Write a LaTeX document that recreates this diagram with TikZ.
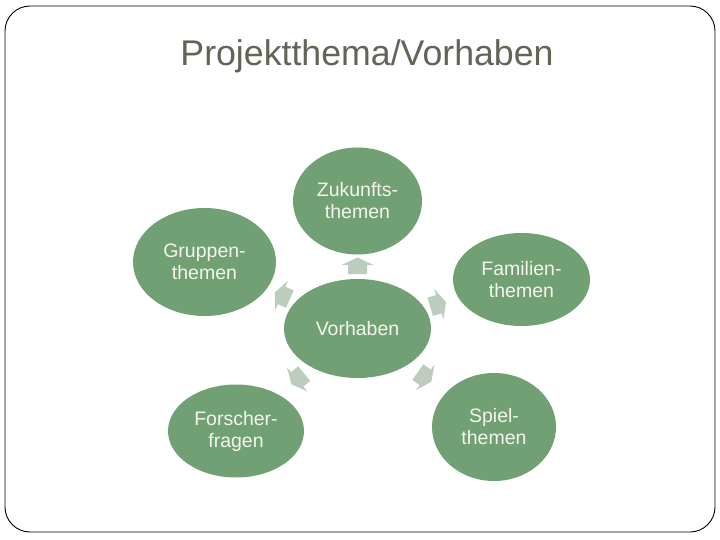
\documentclass[tikz,border=0pt]{standalone}
\usepackage{fontspec}
\setmainfont{Liberation Sans}
\usetikzlibrary{shapes.geometric,calc}
\definecolor{bubble}{RGB}{112,160,115}
\definecolor{arrowc}{RGB}{188,204,190}
\definecolor{titlec}{RGB}{100,100,86}
\definecolor{bubtext}{RGB}{245,245,238}
\tikzset{
  bub/.style={ellipse, fill=bubble, inner sep=0pt, text=bubtext, align=center,
    font=\fontsize{19.5}{22}\selectfont},
  frame/.style={draw=black, line width=0.9pt, rounded corners=25pt},
}
\begin{document}
\begin{tikzpicture}[x=1pt,y=-1pt]
\useasboundingbox (0,0) rectangle (720,540);
\fill[white] (0,0) rectangle (720,540);
\draw[frame] (5,6) rectangle (715,532);
\node[text=titlec, font=\fontsize{35.7}{40}\selectfont] (title) at (367,56) {Projektthema/Vorhaben};

\node[bub, minimum width=129pt, minimum height=107pt] (z) at (357.5,201) {Zukunfts-\\themen};
\node[bub, minimum width=143pt, minimum height=108pt] (g) at (204.5,262) {Gruppen-\\themen};
\node[bub, minimum width=137pt, minimum height=93pt] (f) at (521.5,279.5) {Familien-\\themen};
\node[bub, minimum width=136pt, minimum height=93pt] (fo) at (236,431) {Forscher-\\fragen};
\node[bub, minimum width=124pt, minimum height=108pt] (s) at (494,427) {Spiel-\\themen};
\node[bub, minimum width=147pt, minimum height=99pt] (v) at (357.5,328.5) {Vorhaben};

\foreach \t in {z,g,f,fo,s}{
  \path (v.center) -- (\t.center) coordinate[pos=0.49] (a-\t);
  \pgfmathanglebetweenpoints{\pgfpointanchor{v}{center}}{\pgfpointanchor{\t}{center}}
  \let\ang\pgfmathresult
  \begin{scope}[shift={(a-\t)}, rotate=\ang]
    \fill[arrowc] (-8,-9.5) -- (1,-9.5) -- (1,-16) -- (8.5,0) -- (1,16) -- (1,9.5) -- (-8,9.5) -- cycle;
  \end{scope}
}
\end{tikzpicture}
\end{document}
